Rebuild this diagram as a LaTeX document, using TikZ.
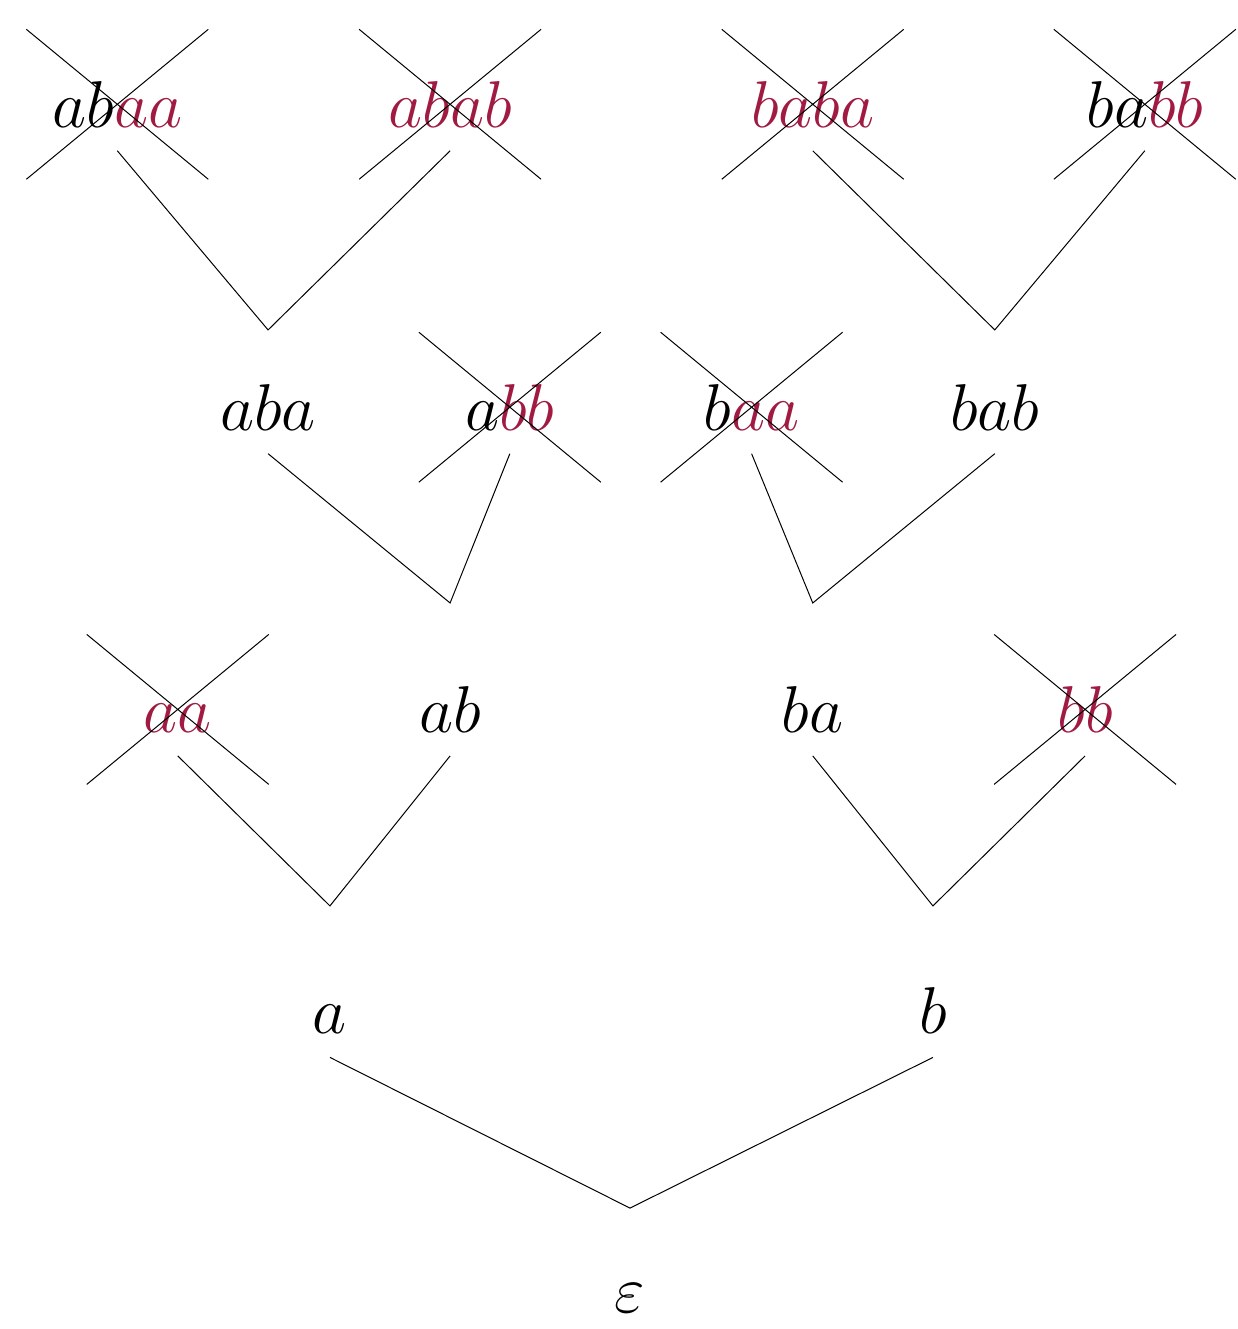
\documentclass[tikz,border=0pt]{standalone}
\usepackage{fix-cm}
\usepackage{xcolor}
\usepackage{tikz}
\usetikzlibrary{shapes.misc}
\definecolor{WordRed}{HTML}{A01A42}
\newcommand{\rd}[1]{\textcolor{WordRed}{#1}}
\tikzset{
  word/.style={anchor=base,inner xsep=0pt,inner ysep=9.2pt,text depth=0pt,font=\fontsize{26.5}{32}\selectfont},
  crossbox/.style={cross out,draw,inner sep=0pt,outer sep=0pt,minimum width=72.8pt,minimum height=60pt}
}
\begin{document}
\begin{tikzpicture}[x=1cm,y=1cm]
\path[use as bounding box] (0,0) rectangle (17.41,18.69);
\node[word] (eps) at (8.86,0.23) {$\varepsilon$};
\node[word] (a) at (4.64,4.15) {$a$};
\node[word] (b) at (13.12,4.15) {$b$};
\node[word] (aa) at (2.50,8.39) {$\rd{aa}$};
\node[word] (ab) at (6.33,8.39) {$ab$};
\node[word] (ba) at (11.43,8.39) {$ba$};
\node[word] (bb) at (15.26,8.39) {$\rd{bb}$};
\node[word] (aba) at (3.77,12.64) {$aba$};
\node[word] (abb) at (7.17,12.64) {$a\rd{bb}$};
\node[word] (baa) at (10.57,12.64) {$b\rd{aa}$};
\node[word] (bab) at (13.99,12.64) {$bab$};
\node[word] (abaa) at (1.65,16.90) {$ab\rd{aa}$};
\node[word] (abab) at (6.33,16.90) {$\rd{abab}$};
\node[word] (baba) at (11.43,16.90) {$\rd{baba}$};
\node[word] (babb) at (16.10,16.90) {$ba\rd{bb}$};
\coordinate (eps-j) at (8.86,1.70);
\coordinate (a-j) at (4.64,5.95);
\coordinate (b-j) at (13.12,5.95);
\coordinate (ab-j) at (6.33,10.21);
\coordinate (ba-j) at (11.43,10.21);
\coordinate (aba-j) at (3.77,14.05);
\coordinate (bab-j) at (13.99,14.05);
\draw (a.south) -- (eps-j) -- (b.south);
\draw (aa.south) -- (a-j) -- (ab.south);
\draw (ba.south) -- (b-j) -- (bb.south);
\draw (aba.south) -- (ab-j) -- (abb.south);
\draw (baa.south) -- (ba-j) -- (bab.south);
\draw (abaa.south) -- (aba-j) -- (abab.south);
\draw (baba.south) -- (bab-j) -- (babb.south);
\node[crossbox] (aa-x) at ([yshift=9.2pt]aa.base) {};
\node[crossbox] (bb-x) at ([yshift=9.2pt]bb.base) {};
\node[crossbox] (abb-x) at ([yshift=9.2pt]abb.base) {};
\node[crossbox] (baa-x) at ([yshift=9.2pt]baa.base) {};
\node[crossbox] (abaa-x) at ([yshift=9.2pt]abaa.base) {};
\node[crossbox] (abab-x) at ([yshift=9.2pt]abab.base) {};
\node[crossbox] (baba-x) at ([yshift=9.2pt]baba.base) {};
\node[crossbox] (babb-x) at ([yshift=9.2pt]babb.base) {};
\end{tikzpicture}
\end{document}
